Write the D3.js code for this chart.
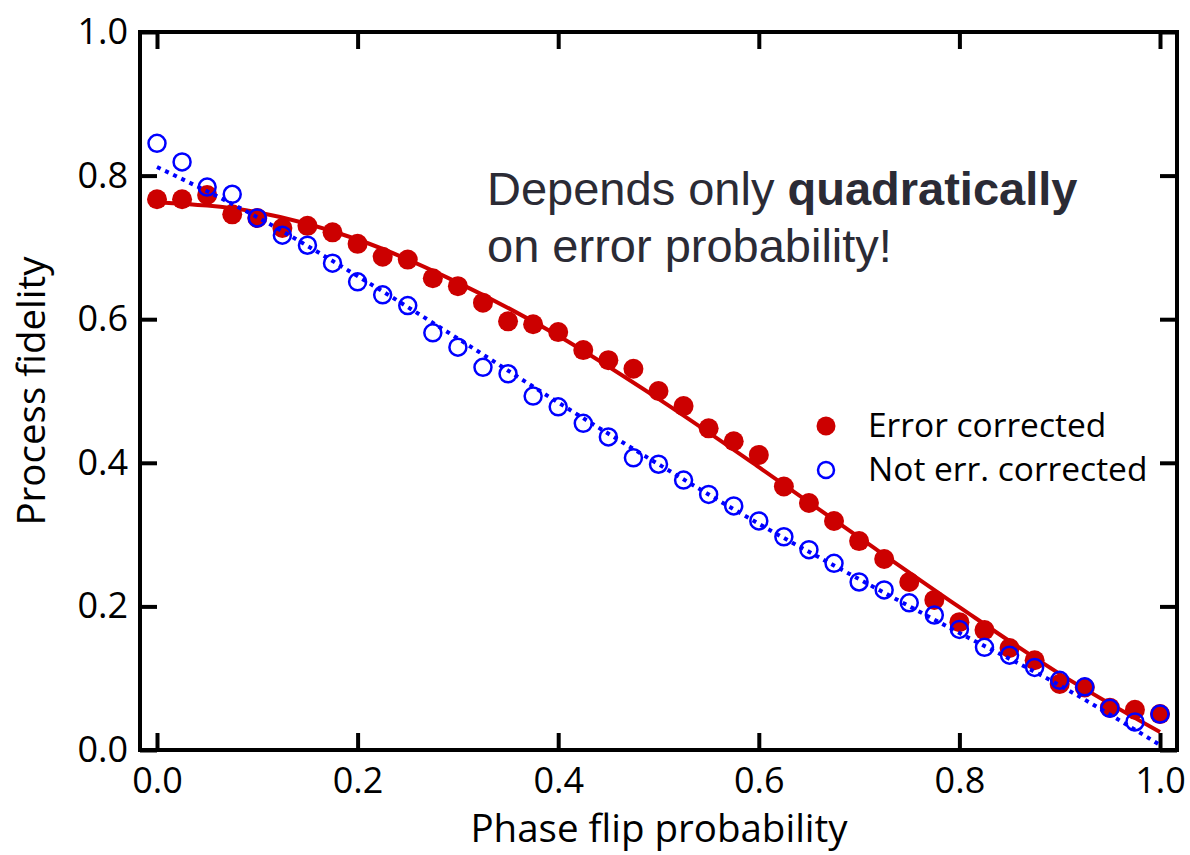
<!DOCTYPE html>
<html><head><meta charset="utf-8">
<script src="https://cdn.jsdelivr.net/npm/d3@7"></script>
<style>body{margin:0;background:#fff}svg{display:block}</style>
</head><body>
<svg id="c" width="1190" height="855"></svg>
<script>
const pValues = [0,0.025,0.05,0.075,0.1,0.125,0.15,0.175,0.2,0.225,0.25,0.275,0.3,0.325,0.35,0.375,0.4,0.425,0.45,0.475,0.5,0.525,0.55,0.575,0.6,0.625,0.65,0.675,0.7,0.725,0.75,0.775,0.8,0.825,0.85,0.875,0.9,0.925,0.95,0.975,1.0];
const corrected = [0.767,0.767,0.773,0.746,0.741,0.727,0.730,0.721,0.705,0.687,0.683,0.657,0.646,0.623,0.597,0.593,0.582,0.557,0.543,0.531,0.500,0.479,0.448,0.430,0.411,0.367,0.344,0.319,0.291,0.266,0.234,0.209,0.178,0.167,0.142,0.125,0.092,0.087,0.059,0.056,0.050];
const notCorrected = [0.845,0.819,0.784,0.774,0.741,0.717,0.703,0.678,0.652,0.634,0.619,0.581,0.561,0.533,0.524,0.493,0.478,0.455,0.436,0.407,0.398,0.376,0.356,0.340,0.319,0.297,0.279,0.260,0.234,0.223,0.205,0.188,0.168,0.143,0.132,0.115,0.097,0.088,0.058,0.039,0.050];
const fitP = [0,0.1,0.2,0.3,0.4,0.5,0.6,0.7,0.8,0.9,1.0];
const fitCorrected = [0.763,0.749,0.711,0.651,0.577,0.489,0.394,0.296,0.199,0.106,0.025];
const fitNotCorrected = [0.812,0.742,0.660,0.573,0.484,0.398,0.315,0.238,0.163,0.090,0.007];
const xTicks = [0,0.2,0.4,0.6,0.8,1.0];
const yTicks = [0,0.2,0.4,0.6,0.8,1.0];
const legendLabels = ["Error corrected","Not err. corrected"];

const svg = d3.select("#c");
const x = d3.scaleLinear().domain([0,1]).range([157,1160]);
const y = d3.scaleLinear().domain([0,1]).range([750,32]);
const frame = {l:140, t:32, r:1177, b:750};
const RED = "#cc0000", BLUE = "#0000ff";
const tickFont = "'Open Sans', sans-serif";

svg.append("rect").attr("x",frame.l).attr("y",frame.t).attr("width",frame.r-frame.l).attr("height",frame.b-frame.t)
  .attr("fill","none").attr("stroke","#000").attr("stroke-width",4);

const fmt = d3.format(".1f");
const xB = svg.append("g").attr("transform",`translate(0,${frame.b})`)
  .call(d3.axisBottom(x).tickValues(xTicks).tickSizeInner(-17).tickSizeOuter(0).tickPadding(17).tickFormat(fmt));
const xT = svg.append("g").attr("transform",`translate(0,${frame.t})`)
  .call(d3.axisTop(x).tickValues(xTicks).tickSizeInner(-17).tickSizeOuter(0).tickFormat(""));
const yL = svg.append("g").attr("transform",`translate(${frame.l},0)`)
  .call(d3.axisLeft(y).tickValues(yTicks).tickSizeInner(-17).tickSizeOuter(0).tickPadding(12).tickFormat(fmt));
const yR = svg.append("g").attr("transform",`translate(${frame.r},0)`)
  .call(d3.axisRight(y).tickValues(yTicks).tickSizeInner(-17).tickSizeOuter(0).tickFormat(""));
[xB,xT,yL,yR].forEach(g=>{
  g.select(".domain").remove();
  g.selectAll(".tick line").attr("stroke","#000").attr("stroke-width",4);
  g.selectAll(".tick text").attr("font-family",tickFont).attr("font-size",36).attr("fill","#000");
});

svg.append("text").attr("x",659).attr("y",842).attr("text-anchor","middle")
  .attr("font-family",tickFont).attr("font-size",38.5).text("Phase flip probability");
svg.append("text").attr("transform","translate(45,391) rotate(-90)").attr("text-anchor","middle")
  .attr("font-family",tickFont).attr("font-size",38.5).text("Process fidelity");

const line = d3.line().x(d=>x(d[0])).y(d=>y(d[1])).curve(d3.curveMonotoneX);
svg.append("path").datum(fitP.map((p,i)=>[p,fitCorrected[i]])).attr("d",line)
  .attr("fill","none").attr("stroke",RED).attr("stroke-width",4);

svg.append("g").selectAll("circle").data(pValues).join("circle")
  .attr("cx",d=>x(d)).attr("cy",(d,i)=>y(corrected[i])).attr("r",10).attr("fill",RED);
svg.append("g").selectAll("circle").data(pValues).join("circle")
  .attr("cx",d=>x(d)).attr("cy",(d,i)=>y(notCorrected[i])).attr("r",8.5)
  .attr("fill","none").attr("stroke",BLUE).attr("stroke-width",2.5);

svg.append("path").datum(fitP.map((p,i)=>[p,fitNotCorrected[i]])).attr("d",line)
  .attr("fill","none").attr("stroke",BLUE).attr("stroke-width",4).attr("stroke-dasharray","4,5");

const annFont = "'Liberation Sans', Arial, sans-serif";
const ann = svg.append("text").attr("font-family",annFont).attr("font-size",47).attr("fill","#2b2b35");
ann.append("tspan").attr("x",487).attr("y",205).text("Depends only ");
ann.append("tspan").attr("font-weight","bold").text("quadratically");
svg.append("text").attr("x",487).attr("y",262).attr("font-family",annFont).attr("font-size",47).attr("fill","#2b2b35").text("on error probability!");

const lg = svg.append("g");
lg.append("circle").attr("cx",826).attr("cy",426).attr("r",9.5).attr("fill",RED);
lg.append("circle").attr("cx",826).attr("cy",470).attr("r",8).attr("fill","none").attr("stroke",BLUE).attr("stroke-width",2.5);
lg.selectAll("text").data(legendLabels).join("text").attr("x",868).attr("y",(d,i)=>437+i*44)
  .attr("font-family",tickFont).attr("font-size",33.5).text(d=>d);
</script>
</body></html>
